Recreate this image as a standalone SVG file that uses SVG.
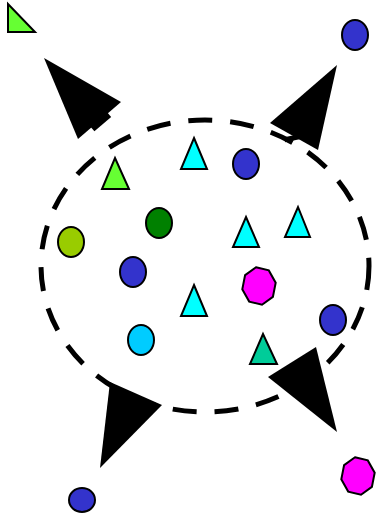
<svg xmlns="http://www.w3.org/2000/svg" width="378" height="518" viewBox="0 0 378 518">
<style>
.n{stroke:#000;stroke-width:2}
.blue{fill:#3333cc}
.cyan{fill:#00ffff}
.lime{fill:#66ff33}
.mag{fill:#ff00ff}
.head{fill:#000;stroke:none}
.shaft{stroke:#000;stroke-width:22;fill:none}
</style>
<rect width="378" height="518" fill="#fff"/>
<g id="boundary">
<ellipse cx="205" cy="266" rx="164" ry="146" fill="none" stroke="#000" stroke-width="5" stroke-dasharray="24 18"/>
</g>
<g id="connectors">
<line class="shaft" x1="97.5" y1="118" x2="102.8" y2="124.2"/>
<polygon class="head" points="44,58 121,102 78,139"/>
<line class="shaft" x1="295" y1="135" x2="296" y2="140"/>
<polygon class="head" points="337,65 270,123 318,150"/>
<polygon class="head" points="100,468 110,382 162,405"/>
<polygon class="head" points="337,432 268,377 316,347"/>
</g>
<g id="n1"><polygon class="n lime" points="8,4 8,32 35,32"/></g>
<g id="n2"><ellipse class="n blue" cx="355" cy="35" rx="13" ry="15"/></g>
<g id="n3"><ellipse class="n blue" cx="82" cy="500" rx="13" ry="12"/></g>
<g id="n4"><polygon class="n mag" points="355,457.3 367.8,460.4 374.7,472.7 371.9,486.9 361,494.7 348.2,491.6 341.3,479.3 344.1,465.1"/></g>
<g id="n5"><polygon class="n lime" points="115,158 129,189 102,189"/></g>
<g id="n6"><polygon class="n cyan" points="194,138 207,169 181,169"/></g>
<g id="n7"><ellipse class="n blue" cx="246" cy="164" rx="13" ry="15"/></g>
<g id="n8"><ellipse class="n" fill="#008000" cx="159" cy="223" rx="13" ry="15"/></g>
<g id="n9"><ellipse class="n" fill="#99cc00" cx="71" cy="242" rx="13" ry="15"/></g>
<g id="n10"><polygon class="n cyan" points="246,217 259,247 233,247"/></g>
<g id="n11"><polygon class="n cyan" points="298,207 310,237 285,237"/></g>
<g id="n12"><ellipse class="n blue" cx="133" cy="272" rx="13" ry="15"/></g>
<g id="n13"><polygon class="n mag" points="256,267.3 268.8,270.4 275.7,282.7 272.9,296.9 262,304.7 249.2,301.6 242.3,289.3 245.1,275.1"/></g>
<g id="n14"><polygon class="n cyan" points="194,285 207,316 181,316"/></g>
<g id="n15"><ellipse class="n" fill="#00ccff" cx="141" cy="340" rx="13" ry="15"/></g>
<g id="n16"><polygon class="n" fill="#00cc99" points="263,334 277,364 250,364"/></g>
<g id="n17"><ellipse class="n blue" cx="333" cy="320" rx="13" ry="15"/></g>
</svg>
